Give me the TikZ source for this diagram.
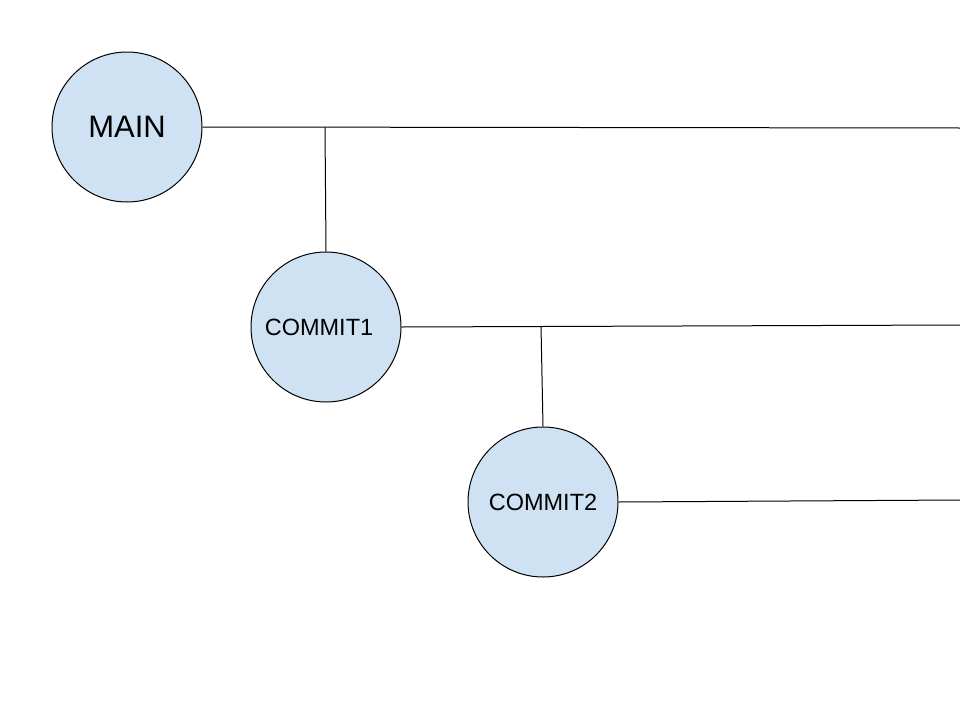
\documentclass[tikz,border=0pt]{standalone}
\usepackage{fontspec}
\setmainfont{Liberation Sans}
\definecolor{nodefill}{HTML}{CFE2F3}
\begin{document}
\begin{tikzpicture}[x=1pt,y=-1pt,
  commit/.style={circle,draw=black,line width=1pt,fill=nodefill,minimum size=150pt,inner sep=0pt},
  link/.style={draw=black,line width=1pt}]
\useasboundingbox[fill=white] (0,0) rectangle (960,720);
\node[commit,font=\fontsize{31}{36}\selectfont] (main) at (127,127) {MAIN};
\node[commit,font=\fontsize{23.5}{28}\selectfont] (c1) at (326,327) {\hspace*{-14pt}COMMIT1};
\node[commit,font=\fontsize{23.5}{28}\selectfont] (c2) at (543,502) {COMMIT2};
\coordinate (e0) at (960,128);
\coordinate (e1) at (960,325);
\coordinate (e2) at (960,500);
\coordinate (j0) at (325,127.3);
\coordinate (j1) at (541,325.8);
\path[link] (main.east) -- (e0);
\path[link] (j0) -- (c1.north);
\path[link] (c1.east) -- (e1);
\path[link] (j1) -- (c2.north);
\path[link] (c2.east) -- (e2);
\end{tikzpicture}
\end{document}
